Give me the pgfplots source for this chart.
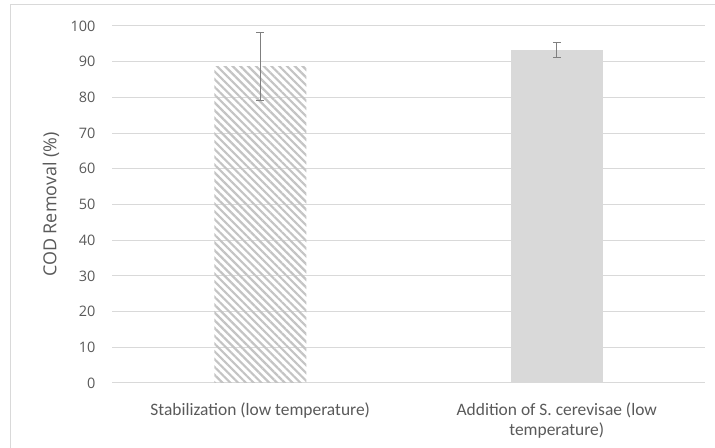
\documentclass[border=0pt]{standalone}
\usepackage{pgfplots}
\pgfplotsset{compat=1.18}
\usepackage{fontspec}
\setmainfont{Carlito}
\newfontfamily\osans{Open Sans}
\usetikzlibrary{patterns.meta}
\definecolor{gridc}{HTML}{D9D9D9}
\definecolor{txt}{HTML}{595959}
\definecolor{barc}{HTML}{D9D9D9}
\definecolor{hatc}{HTML}{C4C4C4}
\definecolor{errc}{HTML}{7F7F7F}
\begin{document}
\begin{tikzpicture}[x=1bp,y=1bp]
\useasboundingbox (0,0) rectangle (715,448);
\draw[gridc, line width=1bp] (10,0) -- (10,443) -- (715,443);
\begin{axis}[
  at={(112bp,65bp)}, anchor=south west,
  scale only axis, width=593bp, height=357bp,
  xmin=-0.5, xmax=1.5, ymin=0, ymax=100,
  ytick={0,10,...,100},
  xtick={0,1},
  xticklabels={Stabilization (low temperature), {Addition of S. cerevisae (low\\temperature)}},
  xticklabel style={align=center, font=\fontsize{17.5}{20.5}\selectfont, text=txt, yshift=-16bp},
  yticklabel style={font=\osans\fontsize{14.5}{17}\selectfont, text=txt, xshift=-13bp},
  /pgf/number format/assume math mode=true,
  ymajorgrids, grid style={gridc, line width=1bp},
  axis line style={draw=none},
  axis x line*=bottom,
  x axis line style={gridc, line width=1bp},
  major tick length=0pt,
  ylabel={COD Removal (\%)},
  ylabel style={font=\osans\fontsize{18}{21}\selectfont, text=txt, at={(axis description cs:0,0.5)}, anchor=center, yshift=61bp},
  ybar, bar width=92bp, bar shift=0pt,
  clip=false,
]
\addplot[draw=none, pattern={Lines[angle=-45,distance=5.5bp,line width=2.2bp]}, pattern color=hatc,
  error bars/.cd, y dir=both, y explicit, error mark options={errc, line width=1bp, mark size=4bp, rotate=90}, error bar style={errc, line width=1bp}]
  coordinates {(0,88.6) +- (0,9.6)};
\addplot[fill=barc, draw=none,
  error bars/.cd, y dir=both, y explicit, error mark options={errc, line width=1bp, mark size=4bp, rotate=90}, error bar style={errc, line width=1bp}]
  coordinates {(1,93.3) +- (0,2.2)};
\end{axis}
\end{tikzpicture}
\end{document}
